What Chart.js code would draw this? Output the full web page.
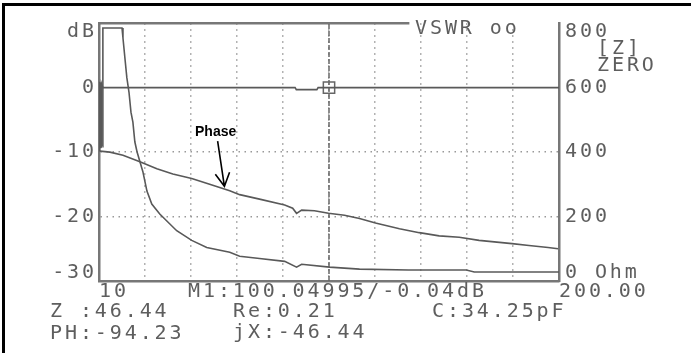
<!DOCTYPE html>
<html>
<head>
<meta charset="utf-8">
<script src="https://cdn.jsdelivr.net/npm/chart.js@4.4.1/dist/chart.umd.min.js"></script>
<style>
  html, body { margin: 0; padding: 0; background: #fff; }
  #wrap { position: relative; width: 691px; height: 353px; overflow: hidden; }
  #frame { position: absolute; left: 2px; top: 3px; right: -5px; bottom: -5px; border-top: 3px solid #000; border-left: 3px solid #000; pointer-events: none; }
  canvas { position: absolute; left: 0; top: 0; }
  .lcd { position: absolute; font-family: 'DejaVu Sans Mono', monospace; font-size: 20px; line-height: 20px; letter-spacing: 2.9px; color: #5e5e5e; white-space: pre; }
  #phase { position: absolute; left: 195px; top: 123px; font: bold 14px 'Liberation Sans', Arial, sans-serif; color: #000; }
</style>
</head>
<body>
<div id="wrap">
  <canvas id="vna" width="691" height="353"></canvas>
  <div id="frame"></div>
  <div class="lcd" style="left:415px;top:17px">VSWR oo</div>
  <div class="lcd" style="left:597px;top:37px">[Z]</div>
  <div class="lcd" style="left:597px;top:54px">ZERO</div>
  <div class="lcd" style="left:188px;top:280px">M1:100.04995/-0.04dB</div>
  <div class="lcd" style="left:50px;top:300px">Z :46.44</div>
  <div class="lcd" style="left:233px;top:300px">Re:0.21</div>
  <div class="lcd" style="left:432px;top:300px">C:34.25pF</div>
  <div class="lcd" style="left:50px;top:322px">PH:-94.23</div>
  <div class="lcd" style="left:233px;top:321px">jX:-46.44</div>
  <div id="phase">Phase</div>
</div>
<script>
// axis ranges / ticks
const xMin = 10, xMax = 200, xStep = 19;
const dbTicks = [-30, -20, -10, 0, 10];
const ohmTicks = [0, 200, 400, 600, 800];

// return loss trace (dB)
const dbFreq = [10, 10.15, 10.3, 10.45, 10.6, 10.75, 10.9, 11.05, 11.6, 91, 91.5, 100, 100.5, 200];
const dbVals = [-9.8, 0.9, -9.6, 0.8, -9.4, 0.7, -9.2, 0.6, 0, 0, -0.3, -0.3, 0, 0];

// |Z| trace (Ohm)
const zFreq = [11.5, 11.6, 19.5, 19.9, 20.7, 21.5, 22.4, 23.2, 24.0, 24.8, 25.7, 27.7, 28.1, 29.8, 31.8, 35.1, 42.1, 48.3, 54.5, 64.0, 68.1, 76.3, 86.7, 91.6, 93.7, 105.2, 117.6, 137.8, 161.7, 165.0, 200];
const zVals = [417, 785, 785, 754, 692, 631, 585, 524, 493, 432, 401, 350, 340, 279, 239, 208, 156, 126, 104, 89, 77, 70, 61, 43, 52, 43, 37, 34, 34, 28, 28];

// phase trace (on the dB grid)
const phFreq = [10.4, 14.5, 19.9, 26.9, 33.9, 40.5, 48.3, 55.7, 64.0, 68.1, 76.3, 86.7, 90.0, 91.6, 93.7, 99.0, 104.8, 111.4, 117.6, 124.2, 134.1, 142.3, 150.5, 158.8, 167.0, 180.6, 187.6, 195.5, 199.6];
const phVals = [-9.85, -10.0, -10.5, -11.5, -12.6, -13.4, -14.1, -15.0, -16.0, -16.6, -17.3, -18.2, -18.7, -19.5, -19.0, -19.1, -19.5, -19.8, -20.3, -21.0, -21.9, -22.5, -23.0, -23.2, -23.7, -24.2, -24.5, -24.8, -25.0];

// marker M1
const markerFreq = [105];
const markerDb = [0];

// annotation positions (data space)
const phaseArrow = { from: [59, -8.3], to: [61.8, -15.3] };
const topFrameEnd = 138.2;

const pts = (xs, ys) => xs.map((x, i) => ({ x: x, y: ys[i] }));
const lcdFont = { family: "'DejaVu Sans Mono', monospace", size: 20, lineHeight: 0.86 };
const traceColor = '#595959';

const lcdPlugin = {
  id: 'lcd',
  beforeUpdate(chart) { chart.ctx.letterSpacing = '2.9px'; },
  beforeDraw(chart) { chart.ctx.letterSpacing = '2.9px'; },
  afterDraw(chart) {
    const { ctx, chartArea, scales } = chart;
    ctx.save();
    ctx.letterSpacing = '0px';
    ctx.strokeStyle = '#777';
    ctx.lineWidth = 2.5;
    ctx.beginPath();
    ctx.moveTo(chartArea.left, chartArea.top);
    ctx.lineTo(scales.x.getPixelForValue(topFrameEnd), chartArea.top);
    ctx.stroke();

    const x1 = scales.x.getPixelForValue(phaseArrow.from[0]);
    const y1 = scales.y.getPixelForValue(phaseArrow.from[1]);
    const x2 = scales.x.getPixelForValue(phaseArrow.to[0]);
    const y2 = scales.y.getPixelForValue(phaseArrow.to[1]);
    const ang = Math.atan2(y2 - y1, x2 - x1);
    ctx.strokeStyle = '#000';
    ctx.lineWidth = 1.6;
    ctx.beginPath();
    ctx.moveTo(x1, y1);
    ctx.lineTo(x2, y2);
    ctx.moveTo(x2 - 15 * Math.cos(ang - 0.5), y2 - 15 * Math.sin(ang - 0.5));
    ctx.lineTo(x2, y2);
    ctx.lineTo(x2 - 15 * Math.cos(ang + 0.5), y2 - 15 * Math.sin(ang + 0.5));
    ctx.stroke();
    ctx.restore();
  }
};

new Chart(document.getElementById('vna'), {
  type: 'line',
  data: {
    datasets: [
      { data: pts(dbFreq, dbVals), yAxisID: 'y', borderColor: traceColor, borderWidth: 1.6, pointRadius: 0 },
      { data: pts(zFreq, zVals), yAxisID: 'y1', borderColor: traceColor, borderWidth: 1.6, pointRadius: 0 },
      { data: pts(phFreq, phVals), yAxisID: 'y', borderColor: traceColor, borderWidth: 1.6, pointRadius: 0 },
      {
        data: [{ x: markerFreq[0], y: dbTicks[0] }, { x: markerFreq[0], y: dbTicks[dbTicks.length - 1] }],
        yAxisID: 'y', borderColor: '#666', borderWidth: 1.5, borderDash: [5, 2], pointRadius: 0
      },
      {
        data: pts(markerFreq, markerDb), yAxisID: 'y', showLine: false,
        pointStyle: 'rect', pointRadius: 8, pointBorderWidth: 1.5,
        pointBorderColor: '#666', pointBackgroundColor: 'rgba(0,0,0,0)'
      }
    ]
  },
  options: {
    responsive: false,
    animation: false,
    devicePixelRatio: 1,
    layout: { padding: { top: 19, left: 0, right: 0, bottom: 0 } },
    plugins: { legend: { display: false }, tooltip: { enabled: false } },
    scales: {
      x: {
        type: 'linear', min: xMin, max: xMax,
        afterFit: (s) => { s.height = 72; },
        ticks: {
          stepSize: xStep, autoSkip: false, maxRotation: 0, align: 'start', padding: 2,
          color: '#5e5e5e', font: lcdFont,
          callback: (v) => v === xMin ? String(xMin) : (v === xMax ? xMax.toFixed(2) : '')
        },
        grid: { color: '#999', lineWidth: 1.5, drawTicks: false },
        border: { display: true, color: '#777', width: 2.5, dash: [1.5, 4.5] }
      },
      y: {
        position: 'left', min: dbTicks[0], max: dbTicks[dbTicks.length - 1],
        afterFit: (s) => { s.width = 99; },
        afterBuildTicks: (s) => { s.ticks = dbTicks.map(v => ({ value: v })); },
        ticks: {
          padding: 2, color: '#5e5e5e', font: lcdFont,
          callback: (v) => v === dbTicks[dbTicks.length - 1] ? ['', 'dB'] : (v === dbTicks[0] ? [String(v), ''] : String(v))
        },
        grid: {
          drawTicks: false, lineWidth: 1.5,
          color: (c) => (c.tick && (c.tick.value === -10 || c.tick.value === -20)) ? '#999' : 'rgba(0,0,0,0)'
        },
        border: { display: true, color: '#777', width: 2.5, dash: [1.5, 4.5] }
      },
      y1: {
        position: 'right', min: ohmTicks[0], max: ohmTicks[ohmTicks.length - 1],
        afterFit: (s) => { s.width = 132; },
        afterBuildTicks: (s) => { s.ticks = ohmTicks.map(v => ({ value: v })); },
        ticks: {
          padding: 6, color: '#5e5e5e', font: lcdFont,
          callback: (v) => v === ohmTicks[0] ? ['0 Ohm', ''] : (v === ohmTicks[ohmTicks.length - 1] ? ['', String(v)] : String(v))
        },
        grid: { drawOnChartArea: false, drawTicks: false },
        border: { display: true, color: '#777', width: 2.5 }
      }
    }
  },
  plugins: [lcdPlugin]
});
</script>
</body>
</html>
